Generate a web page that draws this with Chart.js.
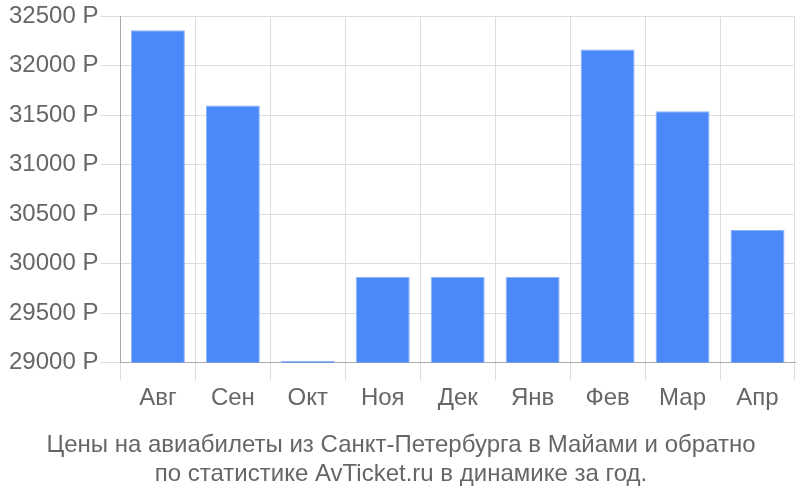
<!DOCTYPE html>
<html>
<head>
<meta charset="utf-8">
<script src="https://cdn.jsdelivr.net/npm/chart.js@4"></script>
<style>
  html, body { margin: 0; padding: 0; background: #fff; }
  #wrap { width: 800px; height: 500px; }
</style>
</head>
<body>
<div id="wrap"><canvas id="chart"></canvas></div>
<script>
const months = ['Авг', 'Сен', 'Окт', 'Ноя', 'Дек', 'Янв', 'Фев', 'Мар', 'Апр']
const prices = [32360, 31600, 29015, 29865, 29865, 29865, 32165, 31540, 30340]
const yMin = 29000
const yMax = 32500
const yStep = 500
const titleLines = [
    'Цены на авиабилеты из Санкт-Петербурга в Майами и обратно',
    'по статистике AvTicket.ru в динамике за год.'
]

Chart.defaults.font.family = '"Liberation Sans", Arial, sans-serif'
Chart.defaults.font.size = 24
Chart.defaults.color = '#666'

const ctx = document.getElementById('chart').getContext('2d')
const myChart = new Chart(ctx, {
    type: 'bar',
    data: {
        labels: months,
        datasets: [{
            data: prices,
            backgroundColor: '#4b89f9',
            borderColor: '#8db3fb',
            borderWidth: 1
        }]
    },
    options: {
        responsive: true,
        maintainAspectRatio: false,
        animation: false,
        layout: { padding: { top: 1, right: 5, left: 7, bottom: 11 } },
        plugins: {
            legend: { display: false },
            tooltip: { enabled: false },
            title: {
                display: true,
                position: 'bottom',
                text: titleLines,
                color: '#666',
                font: { size: 24, weight: 'normal', lineHeight: 1.2 },
                padding: { top: 16, bottom: 0 }
            }
        },
        scales: {
            x: {
                grid: { color: '#ddd', tickLength: 18, tickColor: '#ddd' },
                border: { color: '#aaa' },
                ticks: { padding: 3, color: '#666' }
            },
            y: {
                min: yMin,
                max: yMax,
                grid: { color: '#ddd', tickLength: 20, tickColor: '#ddd' },
                border: { color: '#aaa' },
                ticks: {
                    stepSize: yStep,
                    padding: 2,
                    color: '#666',
                    callback: (v) => v + ' Р'
                }
            }
        }
    }
})
</script>
</body>
</html>
